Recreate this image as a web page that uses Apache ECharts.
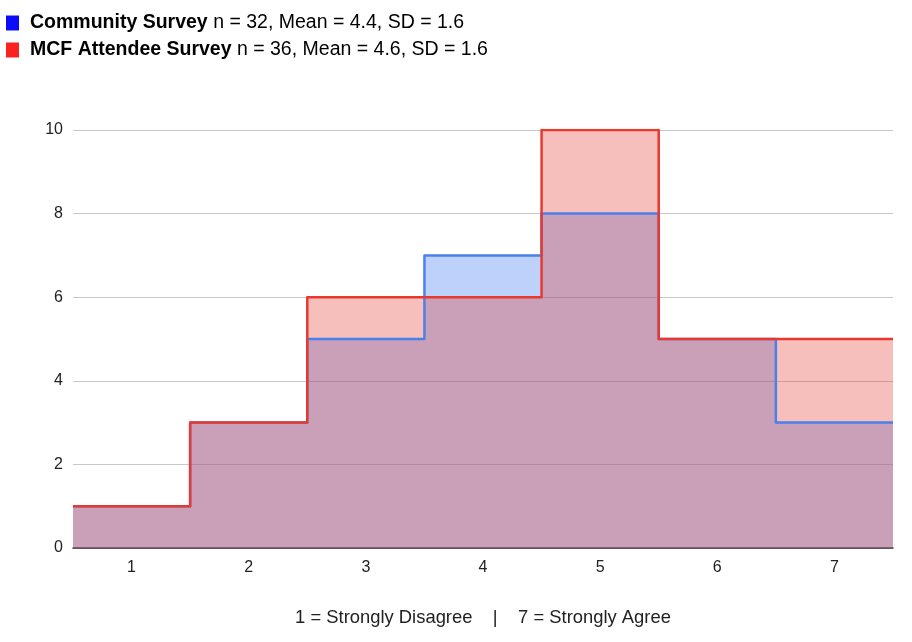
<!DOCTYPE html>
<html>
<head>
<meta charset="utf-8">
<script src="https://cdn.jsdelivr.net/npm/echarts@6/dist/echarts.min.js"></script>
<style>html,body{margin:0;padding:0;background:#fff}#c{width:912px;height:642px}</style>
</head>
<body>
<div id="c"></div>
<script>
var categories = [1, 2, 3, 4, 5, 6, 7];
var seriesNames = ['Community Survey', 'MCF Attendee Survey'];
var communityValues = [1, 3, 5, 7, 8, 5, 3];
var mcfValues = [1, 3, 6, 6, 10, 5, 5];
var statN = [32, 36];
var statMean = ['4.4', '4.6'];
var statSD = ['1.6', '1.6'];
var yTicks = [0, 2, 4, 6, 8, 10];
var xAxisTitle = '1 = Strongly Disagree    |    7 = Strongly Agree';

function stepData(vals) {
  var d = categories.map(function (c, i) { return [c - 0.5, vals[i]]; });
  d.push([categories[categories.length - 1] + 0.5, vals[vals.length - 1]]);
  return d;
}

var FONT = 'Liberation Sans, Arial, sans-serif';
var chart = echarts.init(document.getElementById('c'), null, {renderer: 'canvas'});
chart.setOption({
  animation: false,
  textStyle: {fontFamily: FONT},
  legend: {
    orient: 'vertical', left: 6, top: 13, itemGap: 7, padding: 0,
    icon: 'rect', itemWidth: 13, itemHeight: 15,
    data: [
      {name: seriesNames[0], itemStyle: {color: '#0c0cfa'}},
      {name: seriesNames[1], itemStyle: {color: '#fb2222'}}
    ],
    formatter: function (name) {
      var i = seriesNames.indexOf(name);
      return '{b|' + name + '} n = ' + statN[i] + ', Mean = ' + statMean[i] + ', SD = ' + statSD[i];
    },
    textStyle: {
      fontSize: 19.5, color: '#000', fontFamily: FONT, padding: [0, 0, 0, 6],
      rich: {b: {fontWeight: 'bold', fontSize: 19.5, color: '#000', fontFamily: FONT}}
    }
  },
  grid: {left: 73, right: 19, top: 130, bottom: 94},
  xAxis: {
    type: 'value', min: 0.5, max: 7.5, interval: 0.5,
    name: xAxisTitle, nameLocation: 'middle', nameGap: 61,
    nameTextStyle: {fontSize: 18.4, color: '#222'},
    axisLine: {show: true, lineStyle: {color: '#333', width: 1.5}},
    axisTick: {show: false},
    splitLine: {show: false},
    axisLabel: {
      fontSize: 16, color: '#222', margin: 12,
      formatter: function (v) { return categories.indexOf(v) >= 0 ? String(v) : ''; }
    }
  },
  yAxis: {
    type: 'value', min: yTicks[0], max: yTicks[yTicks.length - 1], interval: 2,
    axisLine: {show: false}, axisTick: {show: false},
    splitLine: {lineStyle: {color: '#c8c8c8', width: 1}},
    axisLabel: {fontSize: 16, color: '#222', margin: 10}
  },
  series: [
    {
      name: seriesNames[0], type: 'line', step: 'end', showSymbol: false, symbol: 'none',
      data: stepData(communityValues),
      lineStyle: {width: 0, opacity: 0},
      itemStyle: {color: '#4a80ec'},
      areaStyle: {color: '#3f78ef', opacity: 0.34},
      z: 2
    },
    {
      name: seriesNames[1], type: 'line', step: 'end', showSymbol: false, symbol: 'none',
      data: stepData(mcfValues),
      lineStyle: {width: 0, opacity: 0},
      itemStyle: {color: '#e8392f'},
      areaStyle: {color: '#e43e34', opacity: 0.33},
      z: 3
    },
    {
      name: seriesNames[0], type: 'line', step: 'end', showSymbol: false, symbol: 'none',
      data: stepData(communityValues),
      lineStyle: {color: '#4a80ec', width: 2.5, join: 'round'},
      itemStyle: {color: '#4a80ec'},
      z: 4
    },
    {
      name: seriesNames[1], type: 'line', step: 'end', showSymbol: false, symbol: 'none',
      data: stepData(mcfValues),
      lineStyle: {color: '#e8392f', width: 2.5, join: 'round'},
      itemStyle: {color: '#e8392f'},
      z: 5
    }
  ]
});
</script>
</body>
</html>
